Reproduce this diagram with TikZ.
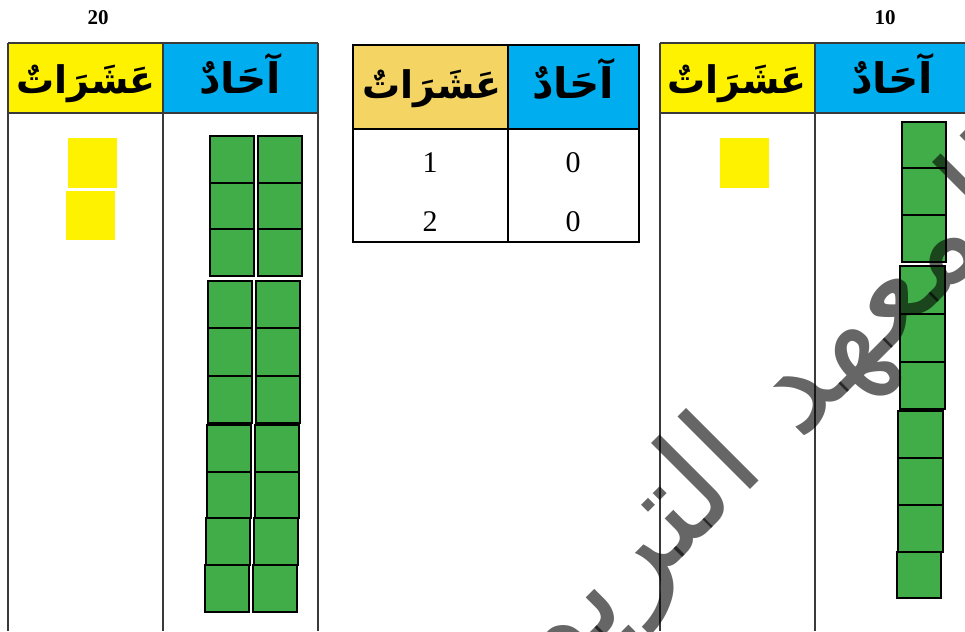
\documentclass[tikz,border=0pt]{standalone}
\usepackage{fontspec}
\setmainfont{Liberation Serif}
\newfontfamily\arabicfont[Script=Arabic]{DejaVu Sans}
\TeXXeTstate=1
\definecolor{gfill}{HTML}{41AD49}
\definecolor{yfill}{HTML}{FFF200}
\definecolor{bfill}{HTML}{00ADEF}
\definecolor{ofill}{HTML}{F4D462}
\definecolor{tline}{HTML}{3A3A3A}
\tikzset{
  gbox/.style={draw=black, line width=2.1pt, fill=gfill},
  ybox/.style={fill=yfill},
  tlines/.style={draw=tline, line width=1.4pt},
  mlines/.style={draw=black, line width=1.9pt},
  hdrt/.style={font=\arabicfont\bfseries\fontsize{38}{44}\selectfont, inner sep=0pt, anchor=base},
  hdro/.style={font=\arabicfont\bfseries\fontsize{42}{48}\selectfont, inner sep=0pt, anchor=base},
  num/.style={font=\fontsize{30}{34}\selectfont, inner sep=0pt},
  toplab/.style={font=\bfseries\fontsize{21}{24}\selectfont, inner sep=0pt},
  wmark/.style={font=\arabicfont\fontsize{135}{150}\selectfont, text=black, opacity=0.6, rotate=45, inner sep=0pt, anchor=base}
}
\newcommand\gsq[4]{\draw[gbox] (#1,#2) rectangle (#3,#4);}
\begin{document}
\begin{tikzpicture}[x=1pt,y=-1pt]
\useasboundingbox (0,0) rectangle (965,631);
\fill[white] (0,0) rectangle (965,631);
% ---------- left table (20)
\fill[yfill] (8,43) rectangle (163,113);
\fill[bfill] (163,43) rectangle (318,113);
\draw[tlines] (8,43) -- (318,43);
\draw[tlines] (8,113) -- (318,113);
\draw[tlines] (8,43) -- (8,631);
\draw[tlines] (163,43) -- (163,631);
\draw[tlines] (318,43) -- (318,631);
\node[toplab] (l20) at (98,18) {20};
\node[hdrt] (lt) at (86,94) {\beginR عَشَرَاتٌ\endR};
\node[hdro] (lo) at (240,94) {\beginR آحَادٌ\endR};
\fill[ybox] (68,138) rectangle (117,188);
\fill[ybox] (66,191) rectangle (115,240);
\gsq{210}{136}{254}{183}\gsq{258}{136}{302}{183}
\gsq{210}{183}{254}{229}\gsq{258}{183}{302}{229}
\gsq{210}{229}{254}{276}\gsq{258}{229}{302}{276}
\gsq{208}{281}{252}{328}\gsq{256}{281}{300}{328}
\gsq{208}{328}{252}{376}\gsq{256}{328}{300}{376}
\gsq{208}{376}{252}{423}\gsq{256}{376}{300}{423}
\gsq{207}{425}{251}{472}\gsq{255}{425}{299}{472}
\gsq{207}{472}{251}{518}\gsq{255}{472}{299}{518}
\gsq{206}{518}{250}{565}\gsq{254}{518}{298}{565}
\gsq{205}{565}{249}{612}\gsq{253}{565}{297}{612}
% ---------- middle table
\fill[ofill] (353,45) rectangle (508,129);
\fill[bfill] (508,45) rectangle (639,129);
\draw[mlines] (353,45) rectangle (639,242);
\draw[mlines] (353,129) -- (639,129);
\draw[mlines] (508,45) -- (508,242);
\node[hdrt] (mt) at (432,99) {\beginR عَشَرَاتٌ\endR};
\node[hdro] (mo) at (573,99) {\beginR آحَادٌ\endR};
\node[num] (m11) at (430,163) {1};
\node[num] (m12) at (573,163) {0};
\node[num] (m21) at (430,222) {2};
\node[num] (m22) at (573,222) {0};
% ---------- right table (10)
\fill[yfill] (660,43) rectangle (815,113);
\fill[bfill] (815,43) rectangle (970,113);
\draw[tlines] (660,43) -- (970,43);
\draw[tlines] (660,113) -- (970,113);
\draw[tlines] (660,43) -- (660,631);
\draw[tlines] (815,43) -- (815,631);
\node[toplab] (r10) at (885,18) {10};
\node[hdrt] (rt) at (737,94) {\beginR عَشَرَاتٌ\endR};
\node[hdro] (ro) at (892,94) {\beginR آحَادٌ\endR};
\fill[ybox] (720,138) rectangle (769,188);
\gsq{902}{122}{946}{168}
\gsq{902}{168}{946}{215}
\gsq{902}{215}{946}{262}
\gsq{900}{266}{945}{314}
\gsq{900}{314}{945}{362}
\gsq{900}{362}{945}{409}
\gsq{898}{411}{943}{458}
\gsq{898}{458}{943}{505}
\gsq{898}{505}{943}{552}
\gsq{897}{552}{941}{598}
% ---------- watermark
\node[wmark] (wm) at (765,475) {\beginR المعهد التربوي\endR};
\end{tikzpicture}
\end{document}
